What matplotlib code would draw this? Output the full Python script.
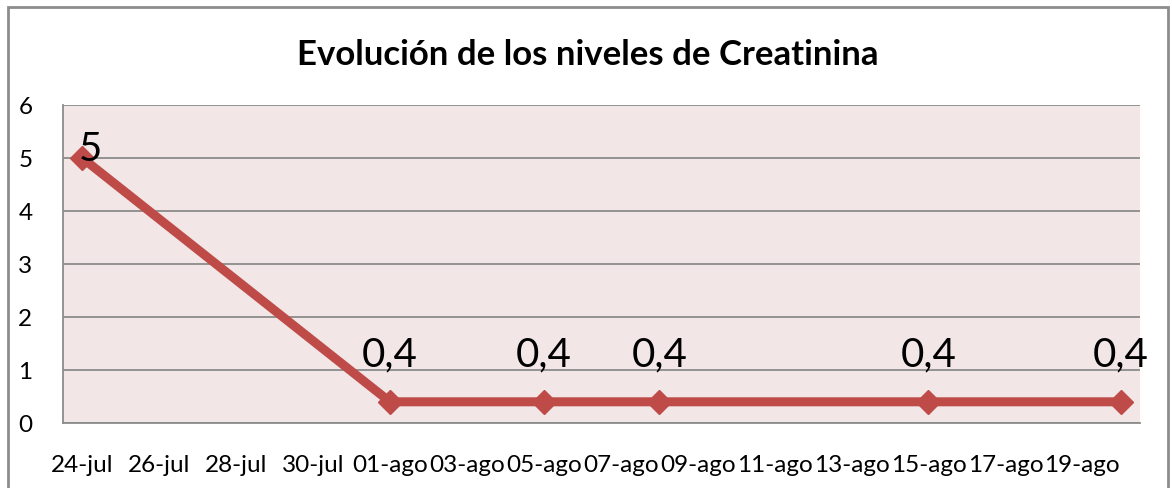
import datetime as dt
import matplotlib.pyplot as plt
import matplotlib.patches as patches

plt.rcParams['font.family'] = ['Lato', 'DejaVu Sans']

# data
fechas = [dt.datetime(2011, 7, 24), dt.datetime(2011, 8, 1), dt.datetime(2011, 8, 5),
          dt.datetime(2011, 8, 8), dt.datetime(2011, 8, 15), dt.datetime(2011, 8, 20)]
creatinina = [5, 0.4, 0.4, 0.4, 0.4, 0.4]
etiquetas = ['5', '0,4', '0,4', '0,4', '0,4', '0,4']

tick_fechas = [dt.datetime(2011, 7, 24) + dt.timedelta(days=2 * i) for i in range(14)]
tick_labels = ['24-jul', '26-jul', '28-jul', '30-jul', '01-ago', '03-ago', '05-ago',
               '07-ago', '09-ago', '11-ago', '13-ago', '15-ago', '17-ago', '19-ago']

color = '#BE4B48'
grid = '#8C8C8C'

fig = plt.figure(figsize=(11.72, 4.89), dpi=100)
ax = fig.add_axes([63 / 1172, 1 - 424 / 489, (1140 - 63) / 1172, (424 - 106) / 489])

ax.plot(fechas, creatinina, color=color, lw=6.5, marker='D', ms=12,
        markeredgecolor=color, solid_joinstyle='miter', clip_on=False, zorder=3)

for i, (f, v, t) in enumerate(zip(fechas, creatinina, etiquetas)):
    if i == 0:
        off = (8, -2)
    else:
        off = (0, 36)
    ax.annotate(t, (f, v), xytext=off, textcoords='offset pixels',
                ha='center', va='baseline', fontsize=29, zorder=4)

ax.set_xlim(fechas[0] - dt.timedelta(hours=12), fechas[-1] + dt.timedelta(hours=12))
ax.set_ylim(0, 6)
ax.set_xticks(tick_fechas)
ax.set_xticklabels(tick_labels)
ax.set_yticks(range(7))
ax.tick_params(axis='both', length=0, labelsize=17.5)
ax.tick_params(axis='x', pad=22)
ax.tick_params(axis='y', pad=22)

ax.set_facecolor('#F2E6E6')
ax.grid(axis='y', color=grid, lw=1.3)
ax.set_axisbelow(True)
for s in ['top', 'right']:
    ax.spines[s].set_visible(False)
for s in ['left', 'bottom']:
    ax.spines[s].set_color(grid)
    ax.spines[s].set_linewidth(1.3)

fig.text(588 / 1172, 1 - 55 / 489, 'Evolución de los niveles de Creatinina',
         ha='center', va='center', fontsize=25, fontweight='bold')

# outer chart border
fig.patches.append(patches.Rectangle((8 / 1172, -0.1), 1160 / 1172, 1.1 - 8 / 489,
                                     transform=fig.transFigure, fill=False,
                                     edgecolor='#8C8C8C', lw=2))

fig.savefig('out.png', dpi=100)
